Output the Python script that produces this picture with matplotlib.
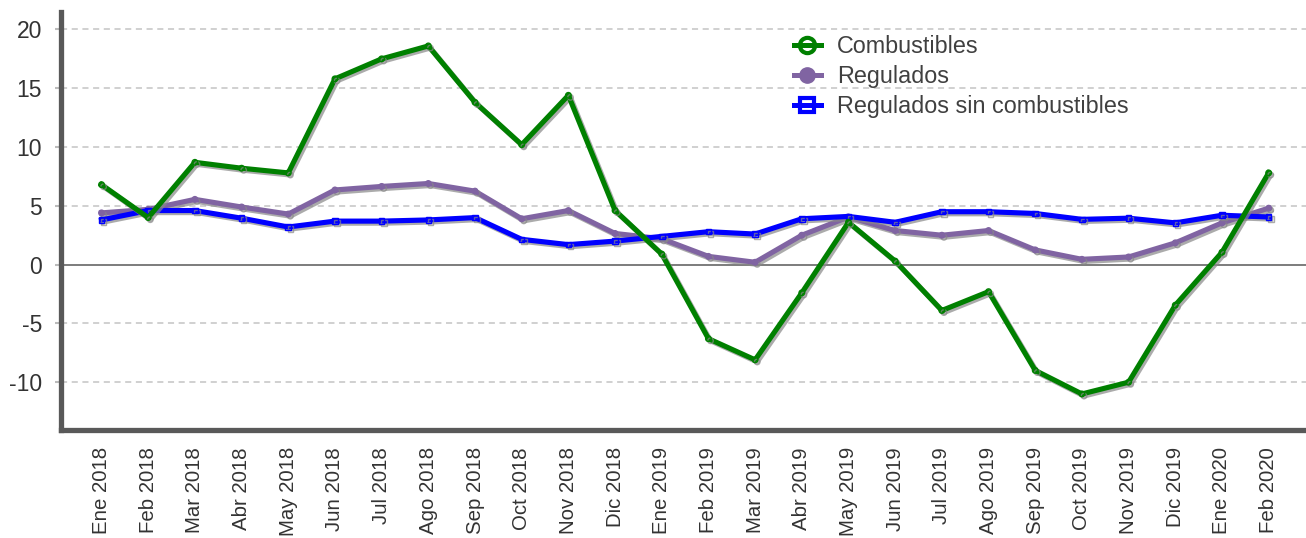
import matplotlib
matplotlib.use("Agg")
import matplotlib.pyplot as plt
import matplotlib.patheffects as pe
from matplotlib.lines import Line2D

plt.rcParams['font.family'] = ['Liberation Sans', 'DejaVu Sans']

months = ["Ene 2018", "Feb 2018", "Mar 2018", "Abr 2018", "May 2018", "Jun 2018",
          "Jul 2018", "Ago 2018", "Sep 2018", "Oct 2018", "Nov 2018", "Dic 2018",
          "Ene 2019", "Feb 2019", "Mar 2019", "Abr 2019", "May 2019", "Jun 2019",
          "Jul 2019", "Ago 2019", "Sep 2019", "Oct 2019", "Nov 2019", "Dic 2019",
          "Ene 2020", "Feb 2020"]

combustibles = [6.8, 4.0, 8.7, 8.2, 7.8, 15.8, 17.5, 18.6, 13.8, 10.2, 14.4, 4.6,
                0.9, -6.3, -8.1, -2.4, 3.6, 0.3, -3.9, -2.3, -9.0, -11.0, -10.0, -3.45,
                1.05, 7.8]
regulados = [4.4, 4.7, 5.55, 4.9, 4.3, 6.35, 6.65, 6.9, 6.25, 3.9, 4.6, 2.65,
             2.2, 0.7, 0.2, 2.5, 4.05, 2.9, 2.5, 2.9, 1.25, 0.45, 0.65, 1.85,
             3.55, 4.8]
regulados_sin = [3.8, 4.6, 4.6, 3.95, 3.2, 3.7, 3.7, 3.8, 4.0, 2.15, 1.7, 2.0,
                 2.4, 2.8, 2.6, 3.9, 4.1, 3.6, 4.5, 4.5, 4.35, 3.85, 3.95, 3.55,
                 4.2, 4.05]

yticks = [-10, -5, 0, 5, 10, 15, 20]

fig = plt.figure(figsize=(13.06, 5.38), dpi=100)
ax = fig.add_axes([0.047, 0.2, 0.953, 0.778])

x = list(range(len(months)))

# gridlines
for yv in yticks:
    if yv == 0:
        ax.axhline(0, color="#666666", lw=1.2, zorder=1)
    else:
        ax.axhline(yv, color="#c4c4c4", lw=1.1, ls=(0, (4, 3)), zorder=1)

shadow = [pe.SimpleLineShadow(offset=(1.5, -1.5), shadow_color="#888888", alpha=0.7),
          pe.Normal()]

series = [
    ("Regulados", regulados, "#8064a2", "o", "#8064a2"),
    ("Regulados sin combustibles", regulados_sin, "#0000ff", "s", "none"),
    ("Combustibles", combustibles, "#008000", "o", "none"),
]
for name, vals, col, mk, mfc in series:
    ax.plot(x, vals, color=col, lw=3.7, marker=mk, ms=4.0, mfc=mfc, mec=col,
            mew=1.0, solid_joinstyle="round", path_effects=shadow, zorder=3)

handles = [
    Line2D([], [], color="#008000", lw=3.6, marker="o", ms=11, mfc="none", mec="#008000", mew=3),
    Line2D([], [], color="#8064a2", lw=3.6, marker="o", ms=11, mfc="#8064a2", mec="#8064a2"),
    Line2D([], [], color="#0000ff", lw=3.6, marker="s", ms=10, mfc="none", mec="#0000ff", mew=3),
]
labels = ["Combustibles", "Regulados", "Regulados sin combustibles"]
leg = ax.legend(handles, labels, loc="upper left", bbox_to_anchor=(0.581, 0.966),
                frameon=False, fontsize=16.8, handlelength=1.15, handletextpad=0.7,
                labelspacing=0.3, borderaxespad=0)
for t in leg.get_texts():
    t.set_color("#404040")

ax.set_xlim(-0.86, 25.8)
ax.set_ylim(-14.1, 21.5)
ax.set_yticks(yticks)
ax.set_yticklabels([str(v) for v in yticks])
ax.set_xticks(x)
ax.set_xticklabels(months, rotation=90)

ax.tick_params(axis="y", labelsize=16.5, colors="#bbbbbb", labelcolor="#333333",
               length=4, width=1.5, pad=10)
ax.tick_params(axis="x", labelsize=14.7, labelcolor="#333333", length=0, pad=12)

for s in ["top", "right"]:
    ax.spines[s].set_visible(False)
for s in ["left", "bottom"]:
    ax.spines[s].set_color("#595959")
    ax.spines[s].set_linewidth(3.8)

fig.savefig("out.png", dpi=100)
